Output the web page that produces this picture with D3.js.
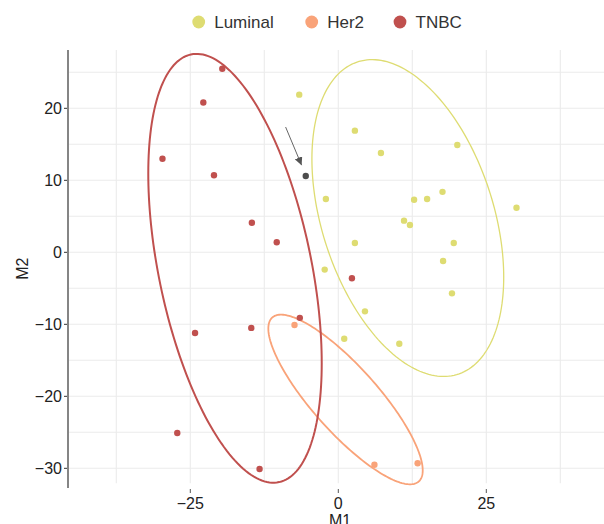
<!DOCTYPE html>
<html>
<head>
<meta charset="utf-8">
<script src="https://cdn.jsdelivr.net/npm/d3@7"></script>
<style>
  body { margin: 0; background: #fff; }
  svg { display: block; font-family: "Liberation Sans", Arial, Helvetica, sans-serif; }
</style>
</head>
<body>
<div id="chart"></div>
<script>
// groups + colours
var groups = ["Luminal", "Her2", "TNBC"];
var groupColors = ["#dedc72", "#f9a379", "#c0504e"];

// points, per group (M1, M2)
var luminalM1 = [-6.6, 2.8, 7.2, 20.1, -2.1, 12.8, 15.0, 17.6, 30.1, 11.1, 12.1, 2.8, 19.5, 17.7, -2.3, 19.2, 4.5, 1.0, 10.3];
var luminalM2 = [21.9, 16.9, 13.8, 14.9, 7.4, 7.3, 7.4, 8.4, 6.2, 4.4, 3.8, 1.3, 1.3, -1.2, -2.4, -5.7, -8.2, -12.0, -12.7];
var her2M1 = [-7.4, 6.1, 13.4];
var her2M2 = [-10.1, -29.5, -29.3];
var tnbcM1 = [-19.6, -22.8, -29.7, -21.0, -14.6, -10.4, 2.3, -6.5, -14.7, -24.2, -27.2, -13.3];
var tnbcM2 = [25.5, 20.8, 13.0, 10.7, 4.1, 1.4, -3.6, -9.1, -10.5, -11.2, -25.1, -30.1];

// highlighted sample + arrow pointing at it
var highlightM1 = [-5.5];
var highlightM2 = [10.6];
var arrowFrom = [-8.9, 17.4];
var arrowTo = [-6.2, 12.1];

// ellipses: centre, half-width, half-height, correlation
var ellipseCx = [11.74, 1.22, -17.45];
var ellipseCy = [4.76, -20.44, -2.22];
var ellipseHx = [16.2, 13.04, 14.65];
var ellipseHy = [22.0, 11.78, 29.78];
var ellipseR = [-0.373, -0.836, -0.442];

// axis ticks
var xTicks = [-25, 0, 25];
var xMinor = [-37.5, -12.5, 12.5, 37.5];
var yTicks = [-30, -20, -10, 0, 10, 20];
var yMinor = [-25, -15, -5, 5, 15, 25];

var W = 604, H = 524;
var panel = {left: 68, right: 604, top: 50, bottom: 483.3};

var x = d3.scaleLinear().domain([-45.66, 44.88]).range([panel.left, panel.right]);
var y = d3.scaleLinear().domain([-32.08, 28.1]).range([panel.bottom, panel.top]);

var svg = d3.select("#chart").append("svg")
    .attr("width", W)
    .attr("height", H);

var minus = function(v) { return String(v).replace("-", "\u2212"); };

// grid
var grid = svg.append("g");
grid.selectAll(".gy").data(yTicks.concat(yMinor)).enter().append("line")
    .attr("x1", panel.left).attr("x2", panel.right)
    .attr("y1", function(d) { return y(d); }).attr("y2", function(d) { return y(d); })
    .attr("stroke", "#ebebeb").attr("stroke-width", 1.1);
grid.selectAll(".gx").data(xTicks.concat(xMinor)).enter().append("line")
    .attr("y1", panel.top).attr("y2", panel.bottom)
    .attr("x1", function(d) { return x(d); }).attr("x2", function(d) { return x(d); })
    .attr("stroke", "#ebebeb").attr("stroke-width", 1.1);

// y axis
svg.append("line")
    .attr("x1", panel.left).attr("x2", panel.left).attr("y1", panel.top).attr("y2", 488)
    .attr("stroke", "#858585").attr("stroke-width", 2);
svg.selectAll(".ytick").data(yTicks).enter().append("line")
    .attr("x1", panel.left - 4).attr("x2", panel.left - 1)
    .attr("y1", function(d) { return y(d); }).attr("y2", function(d) { return y(d); })
    .attr("stroke", "#333").attr("stroke-width", 1);
svg.selectAll(".ylab").data(yTicks).enter().append("text")
    .attr("x", 62).attr("y", function(d) { return y(d); })
    .attr("dy", "0.36em")
    .attr("text-anchor", "end")
    .style("font-size", "16px").style("fill", "#222")
    .text(minus);

// x axis (no line, only ticks)
svg.selectAll(".xtick").data(xTicks).enter().append("line")
    .attr("x1", function(d) { return x(d); }).attr("x2", function(d) { return x(d); })
    .attr("y1", 489).attr("y2", 493)
    .attr("stroke", "#555").attr("stroke-width", 1);
svg.selectAll(".xlab").data(xTicks).enter().append("text")
    .attr("x", function(d) { return x(d); }).attr("y", 508.5)
    .attr("text-anchor", "middle")
    .style("font-size", "16px").style("fill", "#222")
    .text(minus);

svg.append("text")
    .attr("x", 340).attr("y", 525.5)
    .attr("text-anchor", "middle")
    .style("font-size", "16px").style("fill", "#222")
    .text("M1");
svg.append("text")
    .attr("transform", "translate(28.3," + ((panel.top + panel.bottom) / 2 + 2) + ")rotate(-90)")
    .attr("text-anchor", "middle")
    .style("font-size", "16px").style("fill", "#222")
    .text("M2");

// ellipses
var line = d3.line()
    .x(function(d) { return x(d[0]); })
    .y(function(d) { return y(d[1]); })
    .curve(d3.curveLinearClosed);
var strokeW = [1.3, 1.8, 2];
groups.forEach(function(g, i) {
    var pts = [];
    var s = Math.sqrt(1 - ellipseR[i] * ellipseR[i]);
    for (var k = 0; k < 200; k++) {
        var t = k / 200 * 2 * Math.PI;
        pts.push([ellipseCx[i] + ellipseHx[i] * Math.cos(t),
                  ellipseCy[i] + ellipseHy[i] * (ellipseR[i] * Math.cos(t) + s * Math.sin(t))]);
    }
    svg.append("path")
        .datum(pts)
        .attr("d", line)
        .attr("fill", "none")
        .attr("stroke", groupColors[i])
        .attr("stroke-width", strokeW[i]);
});

// points
var series = [[luminalM1, luminalM2], [her2M1, her2M2], [tnbcM1, tnbcM2]];
series.forEach(function(s, i) {
    svg.append("g").selectAll("circle")
        .data(d3.zip(s[0], s[1]))
        .enter().append("circle")
        .attr("cx", function(d) { return x(d[0]); })
        .attr("cy", function(d) { return y(d[1]); })
        .attr("r", 3.2)
        .attr("fill", groupColors[i]);
});
svg.append("g").selectAll("circle")
    .data(d3.zip(highlightM1, highlightM2))
    .enter().append("circle")
    .attr("cx", function(d) { return x(d[0]); })
    .attr("cy", function(d) { return y(d[1]); })
    .attr("r", 3.2)
    .attr("fill", "#4d4d4d");

// arrow
svg.append("defs").append("marker")
    .attr("id", "head")
    .attr("viewBox", "0 0 10 10")
    .attr("refX", 10).attr("refY", 5)
    .attr("markerWidth", 8).attr("markerHeight", 8)
    .attr("markerUnits", "userSpaceOnUse")
    .attr("orient", "auto")
  .append("path")
    .attr("d", "M0,0L10,5L0,10Z")
    .attr("fill", "#555");
svg.append("line")
    .attr("x1", x(arrowFrom[0])).attr("y1", y(arrowFrom[1]))
    .attr("x2", x(arrowTo[0])).attr("y2", y(arrowTo[1]))
    .attr("stroke", "#666").attr("stroke-width", 1)
    .attr("marker-end", "url(#head)");

// legend
var legendX = [198.7, 311.7, 400];
var legend = svg.append("g");
groups.forEach(function(g, i) {
    legend.append("circle")
        .attr("cx", legendX[i]).attr("cy", 22)
        .attr("r", 6.4)
        .attr("fill", groupColors[i]);
    legend.append("text")
        .attr("x", legendX[i] + 15.5).attr("y", 22)
        .attr("dy", "0.36em")
        .style("font-size", "17px").style("fill", "#333")
        .text(g);
});
</script>
</body>
</html>
